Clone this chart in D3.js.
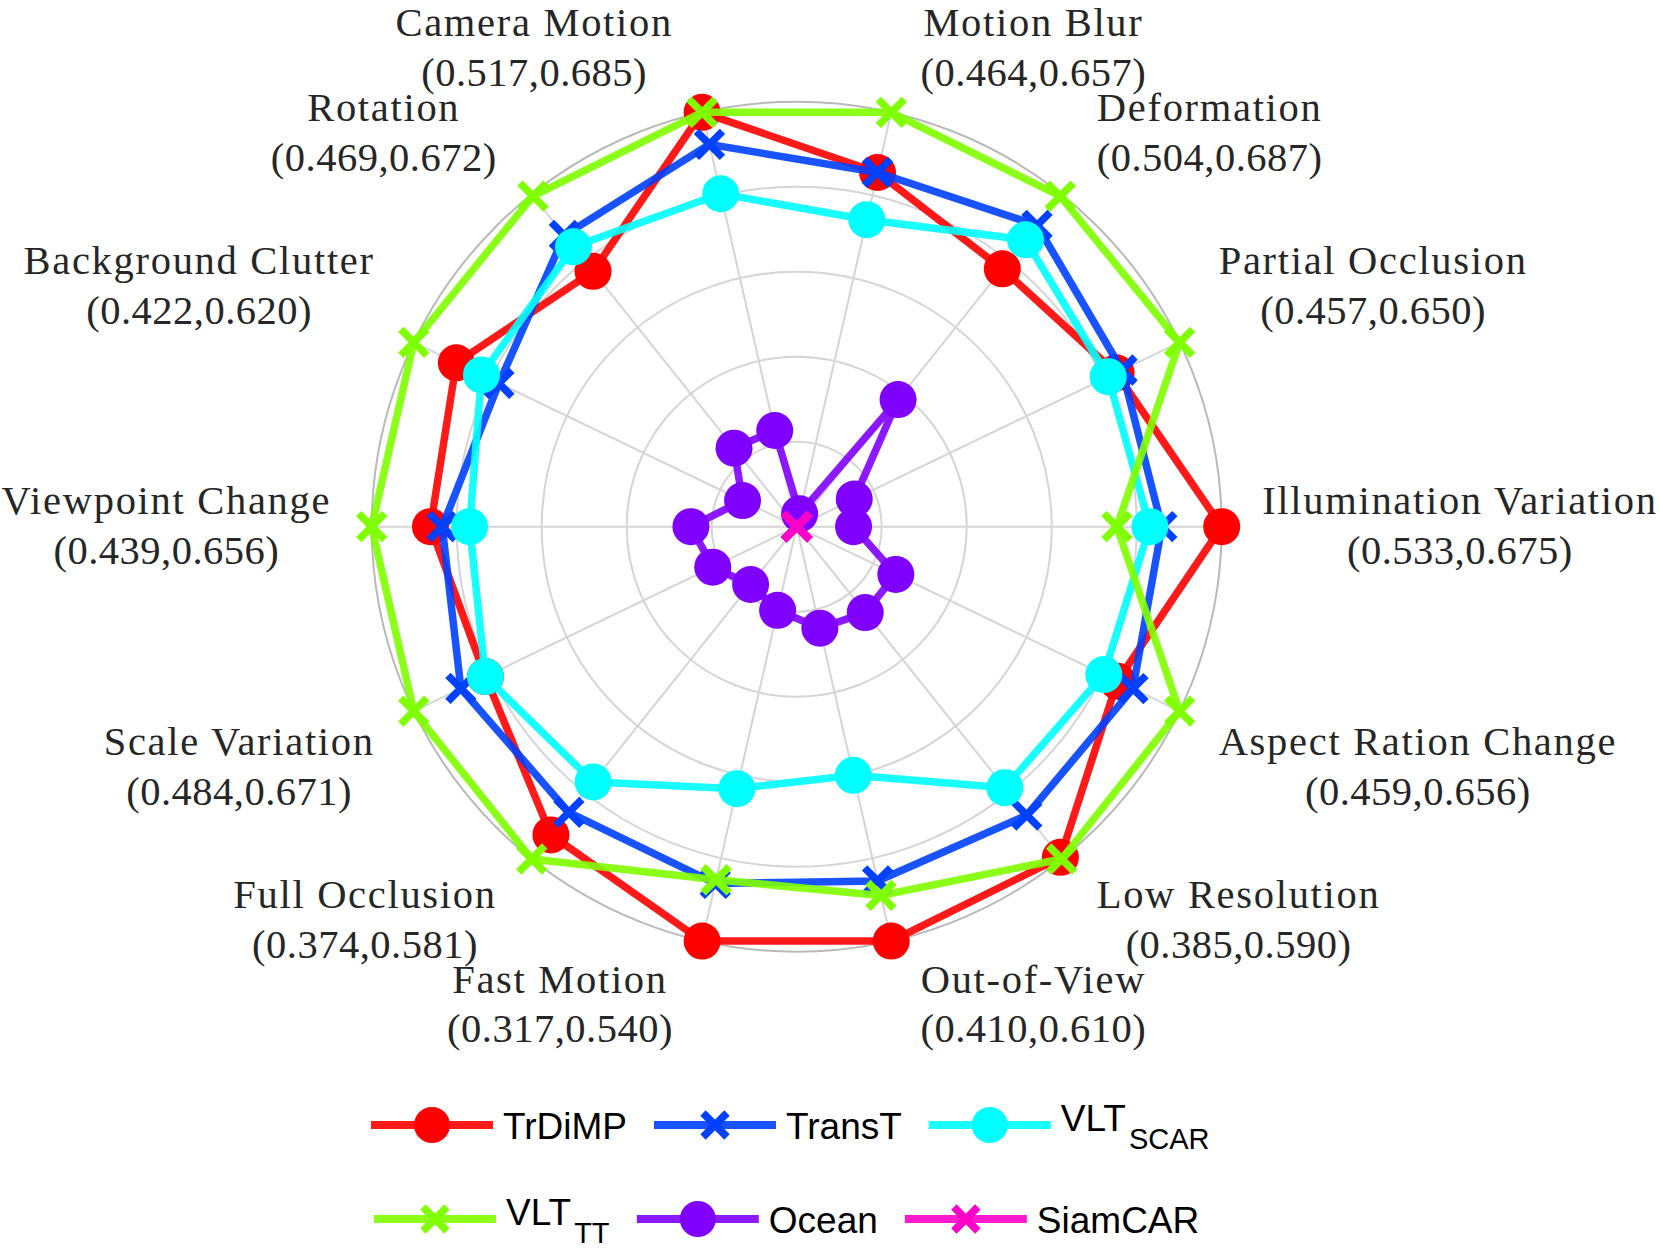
<!DOCTYPE html>
<html>
<head>
<meta charset="utf-8">
<script src="https://cdn.jsdelivr.net/npm/d3@7"></script>
<style>
  body { margin: 0; background: #fff; }
  svg { display: block; }
</style>
</head>
<body>
<svg id="chart" width="1659" height="1249"></svg>
<script>
// axes, counter-clockwise starting from the right
var categories = ["Illumination Variation", "Partial Occlusion", "Deformation", "Motion Blur",
    "Camera Motion", "Rotation", "Background Clutter", "Viewpoint Change", "Scale Variation",
    "Full Occlusion", "Fast Motion", "Out-of-View", "Low Resolution", "Aspect Ration Change"];
var axisMin = [0.533, 0.457, 0.504, 0.464, 0.517, 0.469, 0.422, 0.439, 0.484, 0.374, 0.317, 0.410, 0.385, 0.459];
var axisMax = [0.675, 0.650, 0.687, 0.657, 0.685, 0.672, 0.620, 0.656, 0.671, 0.581, 0.540, 0.610, 0.590, 0.656];

var trdimp  = [0.675, 0.618, 0.646, 0.629, 0.685, 0.625, 0.598, 0.626, 0.636, 0.566, 0.540, 0.610, 0.589, 0.624];
var transt  = [0.655, 0.621, 0.670, 0.629, 0.672, 0.647, 0.576, 0.620, 0.648, 0.552, 0.509, 0.581, 0.563, 0.632];
var vltScar = [0.651, 0.614, 0.662, 0.607, 0.652, 0.640, 0.585, 0.606, 0.636, 0.533, 0.458, 0.530, 0.546, 0.617];
var vltTT   = [0.640, 0.650, 0.686, 0.657, 0.685, 0.671, 0.620, 0.656, 0.671, 0.581, 0.507, 0.588, 0.590, 0.656];
var ocean   = [0.552, 0.486, 0.574, 0.470, 0.556, 0.517, 0.450, 0.493, 0.525, 0.410, 0.362, 0.459, 0.438, 0.510];
var siamcar = [0.533, 0.457, 0.504, 0.464, 0.517, 0.469, 0.422, 0.439, 0.484, 0.374, 0.317, 0.410, 0.385, 0.459];

var series = [
    {name: "TrDiMP", sub: "",     values: trdimp,  color: "#ff0000", marker: "o"},
    {name: "TransT", sub: "",     values: transt,  color: "#0040ff", marker: "x"},
    {name: "VLT",    sub: "SCAR", values: vltScar, color: "#00ffff", marker: "o"},
    {name: "VLT",    sub: "TT",   values: vltTT,   color: "#80ff00", marker: "x"},
    {name: "Ocean",  sub: "",     values: ocean,   color: "#8000ff", marker: "o"},
    {name: "SiamCAR", sub: "",    values: siamcar, color: "#ff00c8", marker: "x"}
];

var W = 1659, H = 1249;
var cx = 796.7, cy = 526.7, R = 425;
var svg = d3.select("#chart");
svg.append("rect").attr("width", W).attr("height", H).attr("fill", "#fff");

var N = categories.length;
var angle = d3.scaleLinear().domain([0, N]).range([0, 2 * Math.PI]);
var scales = categories.map(function(c, i) {
    return d3.scaleLinear().domain([axisMin[i], axisMax[i]]).range([0, R]);
});
function px(i, r) { return cx + r * Math.cos(angle(i)); }
function py(i, r) { return cy - r * Math.sin(angle(i)); }

// web: rings + spokes
var rings = d3.range(1, 6).map(function(k) { return R * k / 5; });
svg.append("g").selectAll("circle").data(rings).enter().append("circle")
    .attr("cx", cx).attr("cy", cy)
    .attr("r", function(d) { return d; })
    .attr("fill", "none")
    .attr("stroke", function(d, i) { return i === 4 ? "#b9b9b9" : "#d5d5d5"; })
    .attr("stroke-width", 2);
svg.append("g").selectAll("line").data(categories).enter().append("line")
    .attr("x1", cx).attr("y1", cy)
    .attr("x2", function(d, i) { return px(i, R); })
    .attr("y2", function(d, i) { return py(i, R); })
    .attr("stroke", "#d5d5d5").attr("stroke-width", 2);

// series, drawn in legend order (later ones on top)
var line = d3.line().curve(d3.curveLinearClosed);
series.forEach(function(s) {
    var pts = s.values.map(function(v, i) {
        var r = scales[i](v);
        return [px(i, r), py(i, r)];
    });
    var g = svg.append("g");
    g.append("path")
        .attr("d", line(pts))
        .attr("fill", "none")
        .attr("stroke", s.color)
        .attr("stroke-opacity", 0.9)
        .attr("stroke-width", 7.5)
        .attr("stroke-linejoin", "round");
    if (s.marker === "o") {
        g.selectAll("circle").data(pts).enter().append("circle")
            .attr("cx", function(d) { return d[0]; })
            .attr("cy", function(d) { return d[1]; })
            .attr("r", 18.5)
            .attr("fill", s.color);
    } else {
        g.selectAll("path.mk").data(pts).enter().append("path")
            .attr("class", "mk")
            .attr("d", function(d) {
                var a = 13;
                return "M" + (d[0] - a) + "," + (d[1] - a) + "L" + (d[0] + a) + "," + (d[1] + a) +
                       "M" + (d[0] - a) + "," + (d[1] + a) + "L" + (d[0] + a) + "," + (d[1] - a);
            })
            .attr("stroke", s.color)
            .attr("stroke-width", 7.5)
            .attr("fill", "none");
    }
});

// axis labels: name + (min,max), block aligned away from the web
var fmt = d3.format(".3f");
var labelG = svg.append("g")
    .style("font-family", "'Liberation Serif', 'Times New Roman', serif")
    .style("font-size", "40.5px")
    .attr("fill", "#262626");
categories.forEach(function(c, i) {
    var th = angle(i);
    var co = Math.cos(th), si = Math.sin(th);
    if (Math.abs(co) < 1e-6) co = 0;
    if (Math.abs(si) < 1e-6) si = 0;
    var ax = cx + 439.5 * co + 26 * Math.sign(co);
    var ay = cy - 439.5 * si;
    var blockC = ay - 2.4 + (si > 0 ? -49.7 : (si < 0 ? 49.7 : 0));
    var t1 = labelG.append("text").attr("text-anchor", "middle")
        .style("letter-spacing", "1.7px").text(c);
    var t2 = labelG.append("text").attr("text-anchor", "middle")
        .style("letter-spacing", "0.5px")
        .text("(" + fmt(axisMin[i]) + "," + fmt(axisMax[i]) + ")");
    var w = Math.max(t1.node().getBBox().width, t2.node().getBBox().width);
    var bx = co > 0 ? ax + w / 2 : (co < 0 ? ax - w / 2 : ax);
    t1.attr("x", bx).attr("y", blockC - 24.9 + 15);
    t2.attr("x", bx).attr("y", blockC + 24.9 + 15);
});

// legend
var legRows = [[0, 1, 2], [3, 4, 5]];
var legY = [1125, 1219];
var legX0 = [371, 374];
var legG = svg.append("g")
    .style("font-family", "'Liberation Sans', Arial, Helvetica, sans-serif")
    .attr("fill", "#000");
legRows.forEach(function(row, ri) {
    var x = legX0[ri], y = legY[ri];
    row.forEach(function(si) {
        var s = series[si];
        var g = legG.append("g");
        g.append("line")
            .attr("x1", x).attr("x2", x + 122)
            .attr("y1", y).attr("y2", y)
            .attr("stroke", s.color).attr("stroke-opacity", 0.9)
            .attr("stroke-width", 8);
        var mx = x + 61;
        if (s.marker === "o") {
            g.append("circle").attr("cx", mx).attr("cy", y).attr("r", 18).attr("fill", s.color);
        } else {
            var a = 12;
            g.append("path")
                .attr("d", "M" + (mx - a) + "," + (y - a) + "L" + (mx + a) + "," + (y + a) +
                           "M" + (mx - a) + "," + (y + a) + "L" + (mx + a) + "," + (y - a))
                .attr("stroke", s.color).attr("stroke-width", 7.5).attr("fill", "none");
        }
        var tx = x + 132;
        var t = g.append("text").attr("x", tx).style("font-size", "37px");
        if (s.sub) {
            t.attr("y", y + 6);
            t.append("tspan").text(s.name);
            t.append("tspan").attr("dx", 3).attr("dy", 18).style("font-size", "29px").text(s.sub);
        } else {
            t.attr("y", y + 14).text(s.name);
        }
        var tw = t.node().getBBox().width;
        x = tx + tw + 27;
    });
});
</script>
</body>
</html>
